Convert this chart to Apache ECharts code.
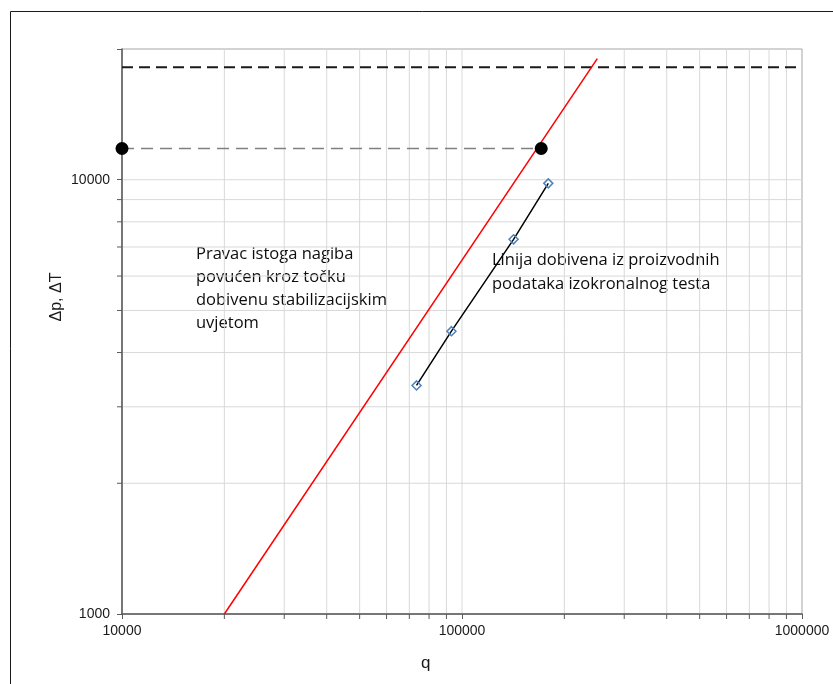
<!DOCTYPE html>
<html>
<head>
<meta charset="utf-8">
<script src="https://cdn.jsdelivr.net/npm/echarts@6/dist/echarts.min.js"></script>
<style>
  html, body { margin: 0; padding: 0; background: #fff; }
  #chart { width: 833px; height: 684px; }
</style>
</head>
<body>
<div id="chart"></div>
<script>
// Isochronal test: measured rate / pressure-difference points
const qTest = [73500, 93100, 141800, 179400];
const dpTest = [3360, 4480, 7290, 9810];

// Line of the same slope drawn through the stabilised point
const qSlope = [20000, 250000];
const dpSlope = [1000, 19000];

// Stabilised point and its horizontal guide
const qStab = [10000, 171000];
const dpStab = [11800, 11800];

// Upper limit (dashed)
const qLimit = [10000, 1000000];
const dpLimit = [18150, 18150];

// Axis ranges
const qRange = [10000, 1000000];
const dpRange = [1000, 20000];

// Log-grid positions
const qMinor = [20000, 30000, 40000, 50000, 60000, 70000, 80000, 90000,
                200000, 300000, 400000, 500000, 600000, 700000, 800000, 900000];
const qInner = [100000];
const dpMinor = [2000, 3000, 4000, 5000, 6000, 7000, 8000, 9000];
const dpInner = [10000];

// Tick labels shown
const qLabels = ['10000', '100000', '1000000'];
const dpLabels = ['1000', '10000'];

const xName = 'q';
const yName = 'Δp, ΔT';
const noteLeft = 'Pravac istoga nagiba\npovućen kroz točku\ndobivenu stabilizacijskim\nuvjetom';
const noteRight = 'Linija dobivena iz proizvodnih\npodataka izokronalnog testa';

const gridColor = '#d9d9d9';
const axisColor = '#595959';
const tickLen = 5;

const chart = echarts.init(document.getElementById('chart'), null, { renderer: 'canvas' });

const zip = (a, b) => a.map((v, i) => [v, b[i]]);

function verticalGrid(params, api) {
  const v = api.value(0);
  const minor = api.value(2);
  const top = api.coord([v, dpRange[1]]);
  const bot = api.coord([v, dpRange[0]]);
  const children = [{
    type: 'line',
    shape: { x1: top[0], y1: top[1], x2: bot[0], y2: bot[1] },
    style: { stroke: gridColor, lineWidth: 1 }
  }];
  if (minor) {
    children.push({
      type: 'line',
      shape: { x1: bot[0], y1: bot[1], x2: bot[0], y2: bot[1] + tickLen },
      style: { stroke: axisColor, lineWidth: 1 }
    });
  }
  return { type: 'group', children };
}

function horizontalGrid(params, api) {
  const v = api.value(1);
  const minor = api.value(2);
  const left = api.coord([qRange[0], v]);
  const right = api.coord([qRange[1], v]);
  const children = [{
    type: 'line',
    shape: { x1: left[0], y1: left[1], x2: right[0], y2: right[1] },
    style: { stroke: gridColor, lineWidth: 1 }
  }];
  if (minor) {
    children.push({
      type: 'line',
      shape: { x1: left[0] - tickLen, y1: left[1], x2: left[0], y2: left[1] },
      style: { stroke: axisColor, lineWidth: 1 }
    });
  }
  return { type: 'group', children };
}

const labelFont = {
  color: '#1a1a1a',
  fontFamily: '"Liberation Sans", Arial, sans-serif',
  fontSize: 14
};

const option = {
  animation: false,
  backgroundColor: '#ffffff',
  grid: {
    left: 122, right: 31, top: 49, bottom: 70,
    show: true, borderColor: '#a6a6a6', borderWidth: 1,
    backgroundColor: 'transparent'
  },
  xAxis: {
    type: 'log', logBase: 10, min: qRange[0], max: qRange[1],
    axisLine: { show: true, lineStyle: { color: axisColor, width: 1.5 } },
    axisTick: { show: true, length: tickLen, inside: false, lineStyle: { color: axisColor } },
    splitLine: { show: false },
    axisLabel: Object.assign({
      margin: 10,
      formatter: v => { const s = String(Math.round(v)); return qLabels.includes(s) ? s : ''; }
    }, labelFont)
  },
  yAxis: {
    type: 'log', logBase: 10, min: dpRange[0], max: dpRange[1],
    axisLine: { show: true, lineStyle: { color: axisColor, width: 1.5 } },
    axisTick: { show: true, length: tickLen, inside: false, lineStyle: { color: axisColor } },
    splitLine: { show: false },
    axisLabel: Object.assign({
      margin: 12,
      formatter: v => { const s = String(Math.round(v)); return dpLabels.includes(s) ? s : ''; }
    }, labelFont)
  },
  graphic: [
    {
      type: 'rect', silent: true, z: -10,
      shape: { x: 10.5, y: 11.5, width: 900, height: 800 },
      style: { fill: 'none', stroke: '#1a1a1a', lineWidth: 1 }
    },
    {
      type: 'text', left: 421, top: 655,
      style: { text: xName, fill: '#1a1a1a', font: '17px "Liberation Sans", Arial, sans-serif' }
    },
    {
      type: 'text', x: 57, y: 297, rotation: Math.PI / 2,
      style: {
        text: yName, fill: '#1a1a1a', font: '16px "Liberation Sans", Arial, sans-serif',
        align: 'center', verticalAlign: 'middle'
      }
    },
    {
      type: 'text', left: 196, top: 243,
      style: {
        text: noteLeft, fill: '#0d0d0d', font: '16.5px "Open Sans", sans-serif',
        lineHeight: 23
      }
    },
    {
      type: 'text', left: 492, top: 248,
      style: {
        text: noteRight, fill: '#0d0d0d', font: '16.5px "Open Sans", sans-serif',
        lineHeight: 24
      }
    }
  ],
  series: [
    {
      type: 'custom', name: 'q-grid', silent: true, clip: false, z: 0,
      renderItem: verticalGrid,
      data: qMinor.map(v => [v, dpRange[0], 1]).concat(qInner.map(v => [v, dpRange[0], 0]))
    },
    {
      type: 'custom', name: 'dp-grid', silent: true, clip: false, z: 0,
      renderItem: horizontalGrid,
      data: dpMinor.map(v => [qRange[0], v, 1]).concat(dpInner.map(v => [qRange[0], v, 0]))
    },
    {
      type: 'line', name: 'limit', silent: true, z: 3,
      data: zip(qLimit, dpLimit), showSymbol: false, symbol: 'none',
      lineStyle: { color: '#1a1a1a', width: 2, type: [11, 6] }
    },
    {
      type: 'line', name: 'slope', silent: true, z: 4,
      data: zip(qSlope, dpSlope), showSymbol: false, symbol: 'none',
      lineStyle: { color: '#ff0000', width: 1.5 }
    },
    {
      type: 'line', name: 'stabilised', silent: true, z: 5, clip: false,
      data: zip(qStab, dpStab), symbol: 'circle', symbolSize: 13, showSymbol: true,
      itemStyle: { color: '#000000' },
      lineStyle: { color: '#808080', width: 1.5, type: [12, 7] }
    },
    {
      type: 'line', name: 'isochronal', silent: true, z: 6,
      data: zip(qTest, dpTest), symbol: 'diamond', symbolSize: 9, showSymbol: true,
      itemStyle: { color: 'rgba(0,0,0,0)', borderColor: '#4f81bd', borderWidth: 1.5 },
      lineStyle: { color: '#000000', width: 1.5 }
    }
  ]
};

chart.setOption(option);
</script>
</body>
</html>
